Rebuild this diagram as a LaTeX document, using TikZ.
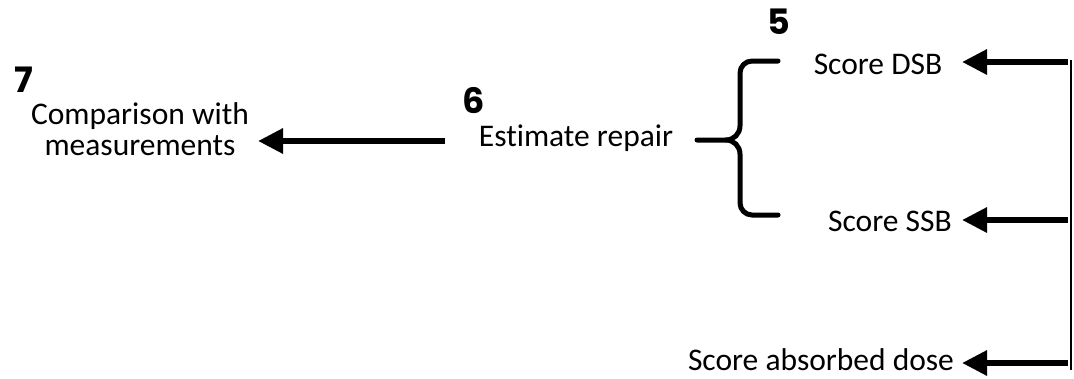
\documentclass[tikz,border=0pt]{standalone}
\usepackage{fontspec}
\setmainfont{Carlito}[Ligatures=NoCommon]
\newfontfamily\numfam{Poppins}
\usetikzlibrary{arrows.meta,calc}
\newcommand\lbfont{\fontsize{31.5}{31}\selectfont}
\newcommand\numfont{\numfam\bfseries\fontsize{35}{36}\selectfont}
\tikzset{
  lbl/.style={font=\lbfont, inner sep=0pt, align=center},
  num/.style={font=\numfont, inner sep=0pt},
  arr/.style={line width=6pt, -{Triangle[length=25pt,width=24pt]}},
  brace/.style={line width=5pt, line cap=round, line join=round},
  vline/.style={line width=2pt}
}
\begin{document}
\begin{tikzpicture}[x=1pt,y=-1pt]
\useasboundingbox (0,0) rectangle (1074,378);
% labels
\node[num] (n7) at (24,80) {7};
\node[lbl] (comp) at (140,129) {Comparison with\\measurements};
\node[num] (n6) at (474,101) {6};
\node[lbl] (est) at (576,138) {Estimate repair};
\node[num] (n5) at (779,22) {5};
\node[lbl] (dsb) at (878,64) {Score DSB};
\node[lbl] (ssb) at (890,221) {Score SSB};
\node[lbl] (dose) at (821,360) {Score absorbed dose};
% coordinates
\coordinate (c6) at (445,141);
\coordinate (vtop) at (1071,60);
\coordinate (vbot) at (1071,370);
\coordinate (rdsb) at (1068,62);
\coordinate (rssb) at (1068,220);
\coordinate (rdose) at (1068,363);
% connectors
\draw[arr] (c6) -- (258,141 |- c6) coordinate (t7);
\draw[vline] (vtop) -- (vbot);
\draw[arr] (rdsb) -- (962,62) coordinate (tdsb);
\draw[arr] (rssb) -- (962,220) coordinate (tssb);
\draw[arr] (rdose) -- (962,363) coordinate (tdose);
% brace
\draw[brace] (778,61) -- (752,61) to[out=180,in=90] (740,73) -- (740,126)
  to[out=-90,in=0] (726,140) -- (697,140);
\draw[brace] (726,140) to[out=0,in=90] (740,154) -- (740,203)
  to[out=-90,in=180] (752,215) -- (778,215);
\end{tikzpicture}
\end{document}
